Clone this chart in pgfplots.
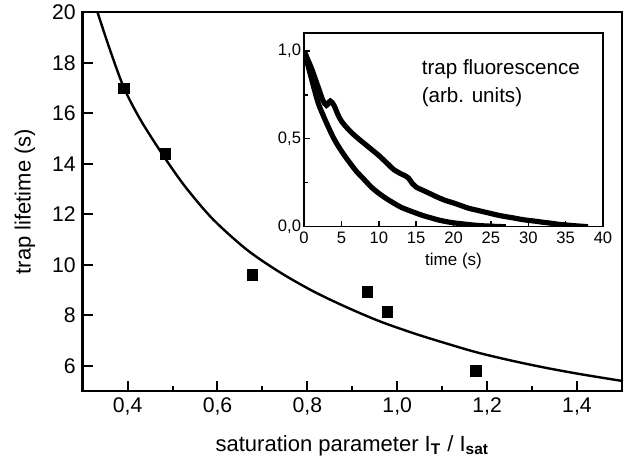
\documentclass[border=0pt]{standalone}
\usepackage{pgfplots}
\pgfplotsset{compat=1.18}
\usepackage{fontspec}
\setmainfont{Liberation Sans}

\begin{document}
\begin{tikzpicture}
\useasboundingbox (-41.35pt,-39.5pt) rectangle (274.65pt,195.5pt);
% main plot: lifetime vs saturation
\begin{axis}[
    name=main, at={(0,0)}, anchor=south west,
    scale only axis, width=269.6pt, height=189.35pt,
    xmin=0.3, xmax=1.5, ymin=5, ymax=20,
    xtick={0.4,0.6,...,1.41}, minor xtick={0.5,0.7,...,1.31},
    ytick={6,8,...,20},
    tick pos=left, tick align=inside,
    major tick length=5pt, minor tick length=2.5pt,
    axis line style={line width=1.2pt},
    every tick/.style={line width=1pt, black},
    ticklabel style={font=\fontsize{10.6}{12}\selectfont},
    /pgf/number format/assume math mode=true,
    xticklabel style={/pgf/number format/.cd, use comma, fixed, fixed zerofill, precision=1},
    xlabel={saturation parameter I\textsubscript{\textbf{T}} / I\textsubscript{\textbf{sat}}},
    ylabel={trap lifetime (s)},
    label style={font=\fontsize{11}{13}\selectfont},
    xlabel style={at={(axis description cs:0.5,0)}, yshift=-27.5pt, anchor=center},
    ylabel style={at={(axis description cs:0,0.5)}, yshift=28.9pt, anchor=center},
]
\addplot[black, line width=1.2pt, smooth] coordinates {
    (0.333,20) (0.36,18.55) (0.392,17.0) (0.43,15.7) (0.484,14.2)
    (0.53,13.05) (0.59,11.8) (0.665,10.6) (0.739,9.7) (0.813,8.95)
    (0.887,8.32) (0.961,7.76) (1.036,7.29) (1.095,6.96) (1.175,6.54)
    (1.25,6.22) (1.33,5.92) (1.41,5.66) (1.5,5.4)
};
\addplot[only marks, mark=square*, mark size=2.6pt, black] coordinates {
    (0.392,16.98) (0.484,14.39) (0.678,9.6) (0.934,8.92) (0.978,8.14) (1.175,5.8)
};
\end{axis}

% inset: fluorescence decay
\begin{axis}[
    at={(110.7pt,82.15pt)}, anchor=south west,
    scale only axis, width=149.45pt, height=96.7pt,
    xmin=0, xmax=40, ymin=0, ymax=1.1,
    xtick={0,5,...,40}, ytick={0,0.5,1}, minor ytick={0.25,0.75},
    tick pos=left, tick align=inside,
    major tick length=3pt, minor tick length=2pt,
    axis line style={line width=0.8pt},
    every tick/.style={line width=0.7pt, black},
    ticklabel style={font=\fontsize{8.3}{9}\selectfont},
    xticklabel style={yshift=1pt},
    yticklabel style={xshift=2pt, /pgf/number format/.cd, use comma, fixed, fixed zerofill, precision=1},
    /pgf/number format/assume math mode=true,
    xlabel={time (s)},
    xlabel style={font=\fontsize{8.5}{10}\selectfont, yshift=2pt},
]
\addplot[black, line width=2.6pt, smooth] coordinates {
    (0,1.0) (0.5,0.92) (1,0.84) (1.5,0.76) (2,0.69) (3,0.59) (4,0.5)
    (5,0.43) (6,0.37) (7,0.315) (8,0.27) (9,0.225) (10,0.19) (11,0.16)
    (12,0.134) (13,0.11) (14,0.093) (15,0.077) (16,0.062) (17,0.05)
    (18,0.038) (19,0.029) (20,0.022) (21,0.017) (22,0.012) (23,0.008)
    (24,0.005) (25,0.003) (26,0.001) (27,0.0)
};
\addplot[black, line width=2.6pt, smooth] coordinates {
    (0,1.0) (0.5,0.95) (1,0.9) (1.5,0.84) (2,0.78) (2.5,0.72) (3,0.69)
    (3.5,0.715) (4,0.69) (4.5,0.64) (5,0.6) (6,0.55) (7,0.51) (8,0.475)
    (9,0.44) (10,0.405) (11,0.365) (12,0.325) (13,0.3) (13.5,0.29)
    (14,0.275) (14.5,0.245) (15,0.225) (16,0.205) (17,0.185) (18,0.165)
    (19,0.148) (20,0.135) (21,0.12) (22,0.105) (23,0.095) (24,0.085)
    (25,0.075) (26,0.065) (27,0.057) (28,0.05) (29,0.042) (30,0.036)
    (31,0.031) (32,0.025) (33,0.02) (34,0.014) (35,0.01) (36,0.006)
    (37,0.003) (38,0.0)
};
\node[anchor=north west, align=left, font=\fontsize{10.3}{14}\selectfont, inner sep=0pt]
    at (axis cs:15.7,0.955) {trap fluorescence\\(arb. units)};
\end{axis}
\end{tikzpicture}
\end{document}
